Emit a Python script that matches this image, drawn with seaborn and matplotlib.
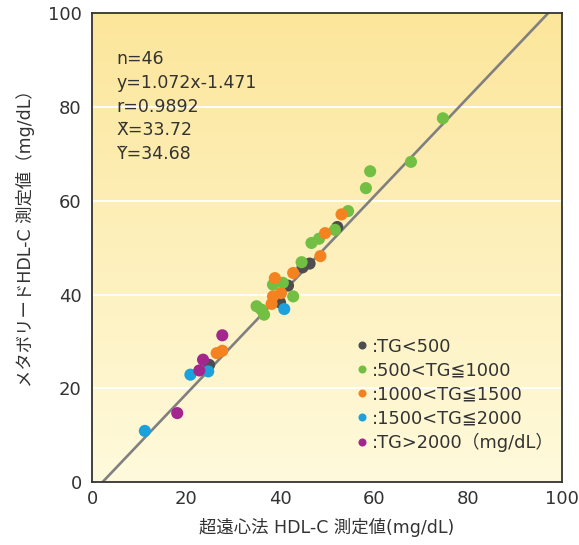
import numpy as np
import pandas as pd
import seaborn as sns
import matplotlib.pyplot as plt
from matplotlib.lines import Line2D

sns.set_style("white")
plt.rcParams['font.family'] = ['DejaVu Sans', 'Noto Sans CJK JP']

tg_lt500_x = [52.2, 46.3, 44.8, 41.7, 40.0, 24.9]
tg_lt500_y = [54.4, 46.6, 45.8, 41.9, 38.3, 25.0]

tg_500_1000_x = [74.7, 67.9, 59.2, 58.3, 54.5, 51.7, 48.3, 46.7, 44.6,
                 40.6, 38.5, 42.8, 35.0, 36.0, 36.6]
tg_500_1000_y = [77.6, 68.3, 66.3, 62.7, 57.8, 53.8, 51.9, 51.0, 46.9,
                 42.5, 42.1, 39.6, 37.5, 36.8, 35.7]

tg_1000_1500_x = [53.1, 49.6, 48.6, 42.8, 38.9, 40.2, 38.5, 38.2, 26.5, 27.7]
tg_1000_1500_y = [57.1, 53.1, 48.2, 44.6, 43.5, 40.3, 39.6, 38.0, 27.5, 28.0]

tg_1500_2000_x = [40.9, 20.9, 24.7, 11.2]
tg_1500_2000_y = [36.9, 22.9, 23.6, 10.9]

tg_gt2000_x = [27.7, 23.6, 22.8, 18.1]
tg_gt2000_y = [31.3, 26.1, 23.8, 14.7]

groups = [':TG<500', ':500<TG≦1000', ':1000<TG≦1500', ':1500<TG≦2000',
          ':TG>2000（mg/dL）']
colors = ['#4d4d4f', '#72bf44', '#f58220', '#1ba1dc', '#a3268f']

# regression line as drawn in the figure
line_x = [2.2, 97.1]
line_y = [0, 100]

stats = ['n=46', 'y=1.072x-1.471', 'r=0.9892', 'X\u0304=33.72', 'Y\u0304=34.68']

xs = [tg_lt500_x, tg_500_1000_x, tg_1000_1500_x, tg_1500_2000_x, tg_gt2000_x]
ys = [tg_lt500_y, tg_500_1000_y, tg_1000_1500_y, tg_1500_2000_y, tg_gt2000_y]
df = pd.concat([pd.DataFrame({'x': a, 'y': b, 'group': g})
                for a, b, g in zip(xs, ys, groups)], ignore_index=True)

fig = plt.figure(figsize=(5.79, 5.45), dpi=100)
ax = fig.add_axes([0.1594, 0.1156, 0.8106, 0.86])

# yellow gradient background
grad = np.linspace(0, 1, 256).reshape(-1, 1)
top = np.array([252, 230, 155]) / 255
bot = np.array([255, 250, 220]) / 255
img = top * (1 - grad)[..., None] + bot * grad[..., None]
img = img.reshape(256, 1, 3)
ax.imshow(img, extent=[0, 100, 0, 100], aspect='auto', zorder=0)

for g in [20, 40, 60, 80]:
    ax.axhline(g, color='white', lw=1.3, zorder=1)

ax.plot(line_x, line_y, color='#808080', lw=1.9, zorder=2, solid_capstyle='butt')

sns.scatterplot(data=df, x='x', y='y', hue='group', hue_order=groups,
                palette=dict(zip(groups, colors)), s=76, linewidth=0,
                alpha=1, legend=False, ax=ax, zorder=3)

ax.set_xlim(0, 100)
ax.set_ylim(0, 100)
ax.set_xticks([0, 20, 40, 60, 80, 100])
ax.set_yticks([0, 20, 40, 60, 80, 100])
ax.tick_params(axis='x', direction='in', length=9, width=1.1, color='#333333',
               pad=6, labelsize=13, labelcolor='#333333')
ax.tick_params(axis='y', length=0, pad=7.6, labelsize=13, labelcolor='#333333')
for sp in ax.spines.values():
    sp.set_color('#333333')
    sp.set_linewidth(1.3)
    sp.set_zorder(5)

ax.set_xlabel('超遠心法 HDL-C 測定値(mg/dL)', fontsize=12.5, color='#333333')
ax.set_ylabel('メタボリードHDL-C 測定値（mg/dL）', fontsize=12.5, color='#333333')
ax.xaxis.set_label_coords(0.5, -0.098)
ax.xaxis.label.set_va('center')
ax.yaxis.set_label_coords(-0.143, 0.529)
ax.yaxis.label.set_va('center')

for i, s in enumerate(stats):
    py = 64 + 23.8 * i
    ax.text(0.0522, (482 - py) / 468.7, s, transform=ax.transAxes,
            fontsize=12.5, color='#333333', va='baseline', ha='left', zorder=6)

handles = [Line2D([], [], marker='o', ls='none', color=c, markersize=5.8,
                  markeredgewidth=0) for c in colors]
ax.legend(handles, groups, loc='upper left', bbox_to_anchor=(0.563, 0.308),
          frameon=False, fontsize=12.8, handlelength=0.6, handletextpad=0.25,
          labelspacing=0.33, borderpad=0, borderaxespad=0,
          labelcolor='#333333')

fig.savefig('out.png', dpi=100)
